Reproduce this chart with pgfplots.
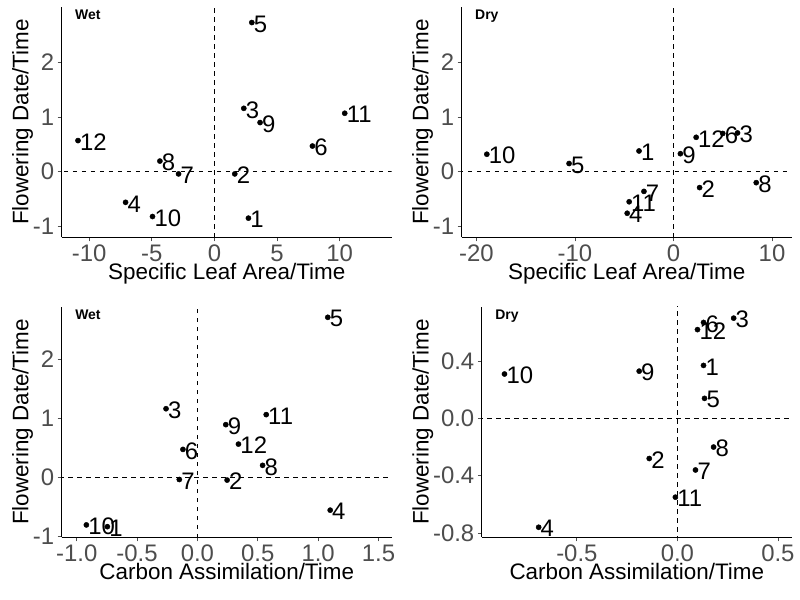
\documentclass[border=0pt]{standalone}
\usepackage{fontspec}
\setmainfont{Liberation Sans}
\usepackage{pgfplots}
\pgfplotsset{compat=1.18}
\definecolor{tickgrey}{HTML}{4D4D4D}
\pgfplotsset{
  panel/.style={
    scale only axis, anchor=south west,
    height=230.6bp,
    axis x line*=bottom, axis y line*=left,
    axis line style={-, black, line width=0.8bp},
    tick align=outside, major tick length=4bp,
    tick style={tickgrey, line width=0.8bp},
    every tick label/.append style={font=\fontsize{24}{26}\selectfont, text=tickgrey},
    label style={font=\fontsize{22.5}{25}\selectfont},
    /pgf/number format/assume math mode=true,
    ylabel={Flowering Date/Time},
    xlabel style={yshift=5bp},
    ylabel style={yshift=-7bp},
    clip=true,
    nodes near coords, point meta=explicit symbolic,
    every node near coord/.append style={anchor=west, xshift=-1.5bp, yshift=-1.5bp, font=\fontsize{24}{26}\selectfont, text=black},
  },
  pts/.style={only marks, mark=*, mark size=2.6bp, black},
  zero/.style={dash pattern=on 4.5bp off 4.5bp, black, line width=0.8bp, forget plot, nodes near coords={}},
}
\newcommand{\tag}[1]{\node[anchor=north west, font=\bfseries\fontsize{14}{15}\selectfont] at (rel axis cs:0,1) [xshift=10bp, yshift=0bp] {#1};}
\begin{document}
\begin{tikzpicture}
\useasboundingbox (0,0) rectangle (800bp,600bp);
% Panel 1
\begin{axis}[panel, at={(61.7bp,362.7bp)}, width=330bp,
  xmin=-12.2, xmax=14.15, ymin=-1.2, ymax=3.02,
  xtick={-10,-5,0,5,10}, ytick={-1,0,1,2},
  xlabel={Specific Leaf Area/Time}]
\addplot[zero] coordinates {(0,-5) (0,5)};
\addplot[zero] coordinates {(-30,0) (30,0)};
\addplot[pts] table[meta=l] {
x y l
2.98 2.73 5
2.34 1.16 3
3.64 0.90 9
10.4 1.07 11
7.82 0.47 6
-10.9 0.57 12
-4.36 0.195 8
-2.87 -0.04 7
1.62 -0.04 2
-7.1 -0.56 4
-4.95 -0.82 10
2.71 -0.85 1
};
\tag{Wet}
\end{axis}
% Panel 2
\begin{axis}[panel, at={(461.7bp,362.7bp)}, width=330bp,
  xmin=-21.5, xmax=12.0, ymin=-1.2, ymax=3.02,
  xtick={-20,-10,0,10}, ytick={-1,0,1,2},
  xlabel={Specific Leaf Area/Time}]
\addplot[zero] coordinates {(0,-5) (0,5)};
\addplot[zero] coordinates {(-30,0) (30,0)};
\addplot[pts] table[meta=l] {
x y l
-18.95 0.32 10
-10.6 0.15 5
-3.5 0.38 1
0.7 0.33 9
2.3 0.63 12
5.0 0.70 6
6.5 0.71 3
-3.0 -0.36 7
-4.5 -0.55 11
-4.7 -0.76 4
2.65 -0.29 2
8.4 -0.20 8
};
\tag{Dry}
\end{axis}
% Panel 3
\begin{axis}[panel, at={(61.7bp,62.7bp)}, width=330bp,
  xmin=-1.124, xmax=1.61, ymin=-1.02, ymax=2.89,
  xtick={-1,-0.5,0,0.5,1,1.5}, ytick={-1,0,1,2},
  xticklabel style={/pgf/number format/.cd, fixed, fixed zerofill, precision=1},
  xlabel={Carbon Assimilation/Time}]
\addplot[zero] coordinates {(0,-5) (0,5)};
\addplot[zero] coordinates {(-30,0) (30,0)};
\addplot[pts] table[meta=l] {
x y l
1.08 2.71 5
-0.26 1.16 3
0.235 0.89 9
0.57 1.06 11
0.34 0.56 12
-0.12 0.47 6
0.54 0.20 8
-0.15 -0.04 7
0.246 -0.05 2
1.10 -0.56 4
-0.92 -0.81 10
-0.746 -0.84 1
};
\tag{Wet}
\end{axis}
% Panel 4
\begin{axis}[panel, at={(481.7bp,62.7bp)}, width=310bp,
  xmin=-0.973, xmax=0.569, ymin=-0.83, ymax=0.78,
  xtick={-0.5,0,0.5}, ytick={-0.8,-0.4,0,0.4},
  xticklabel style={/pgf/number format/.cd, fixed, fixed zerofill, precision=1},
  yticklabel style={/pgf/number format/.cd, fixed, fixed zerofill, precision=1},
  xlabel={Carbon Assimilation/Time}]
\addplot[zero] coordinates {(0,-5) (0,5)};
\addplot[zero] coordinates {(-30,0) (30,0)};
\addplot[pts] table[meta=l] {
x y l
-0.86 0.31 10
-0.19 0.33 9
0.13 0.67 6
0.28 0.70 3
0.10 0.62 12
0.13 0.37 1
0.135 0.14 5
0.18 -0.20 8
-0.14 -0.28 2
0.09 -0.36 7
-0.01 -0.55 11
-0.69 -0.76 4
};
\tag{Dry}
\end{axis}
\end{tikzpicture}
\end{document}
